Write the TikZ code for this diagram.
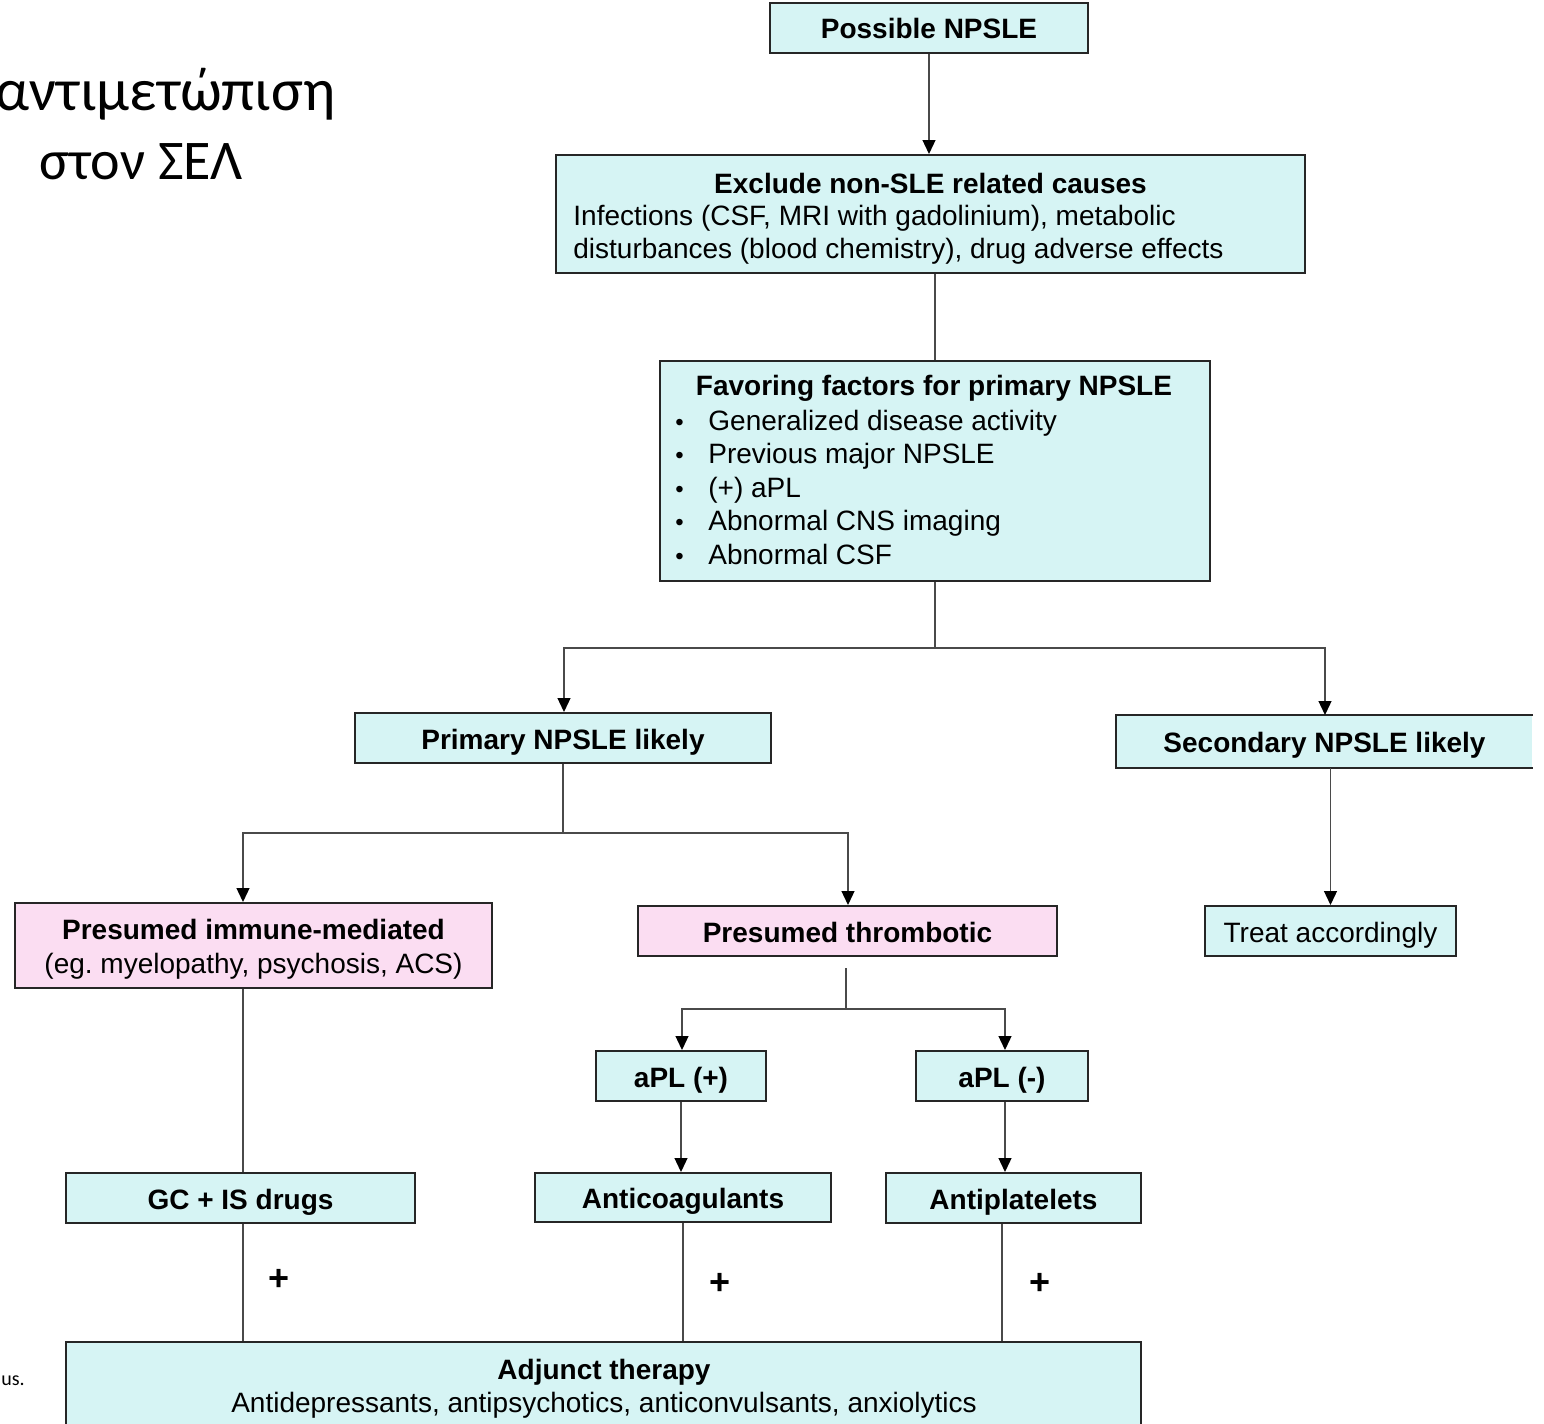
\documentclass[tikz,border=0pt]{standalone}
\usepackage{fontspec}
\setmainfont{Liberation Sans}
\newfontfamily\greekfont{Carlito}
\usetikzlibrary{arrows.meta}
\definecolor{boxcyan}{HTML}{D6F4F4}
\definecolor{boxpink}{HTML}{FBDDF2}
\definecolor{linegray}{HTML}{4A4A4A}
\newcommand\mybul{\makebox[16.5pt][l]{\fontsize{12}{12}\selectfont\textbullet}}
\frenchspacing
\begin{document}
\begin{tikzpicture}[x=0.5pt,y=-0.5pt,
  box/.style={draw=black!85, line width=1pt, fill=boxcyan, inner sep=0pt,
    font=\fontsize{14}{16.75}\selectfont, align=center, text height=12pt, text depth=1pt},
  pbox/.style={box, fill=boxpink},
  txt/.style={inner sep=0pt, font=\fontsize{14}{16.75}\selectfont},
  conn/.style={draw=linegray, line width=0.65pt},
  arr/.style={conn, -{Triangle[length=7pt,width=6.5pt,color=black]}},
  gtitle/.style={inner sep=0pt, anchor=base east, font=\greekfont\fontsize{30}{36}\selectfont},
  plus/.style={inner sep=0pt, font=\fontsize{18}{20}\selectfont\bfseries},
]
\useasboundingbox (0,0) rectangle (1544,1424);

% title
\node[gtitle] (t1) at (336,110) {αντιμετώπιση};
\node[gtitle, font=\greekfont\fontsize{28}{34}\selectfont] (t2) at (243,179) {στον ΣΕΛ};
\node[inner sep=0pt, anchor=base west, font=\greekfont\fontsize{10}{12}\selectfont] (us) at (1,1385) {us.};

% boxes
\node[box, minimum width=159pt, minimum height=25pt] (poss) at (929,28) {\textbf{Possible NPSLE}};

\node[box, minimum width=374.5pt, minimum height=59pt] (excl) at (930.5,214) {};
\node[txt] (exclt) at (930.5,183) {\textbf{Exclude non-SLE related causes}};
\node[txt, anchor=west, align=left] (exclb) at (573,235) {Infections (CSF, MRI with gadolinium), metabolic\\disturbances (blood chemistry), drug adverse effects};

\node[box, minimum width=275pt, minimum height=110pt] (fav) at (935,471) {};
\node[txt] (favt) at (934,388) {\textbf{Favoring factors for primary NPSLE}};
\node[txt, anchor=west, align=left] (favb) at (675,487) {%
\mybul Generalized disease activity\\
\mybul Previous major NPSLE\\
\mybul (+) aPL\\
\mybul Abnormal CNS imaging\\
\mybul Abnormal CSF};

\node[box, minimum width=208pt, minimum height=25pt] (prim) at (563,738) {\textbf{Primary NPSLE likely}};
\node[box, draw=none, minimum width=207.5pt, minimum height=25.5pt] (sec) at (1324.5,741.5) {\textbf{Secondary NPSLE likely}};
\draw[draw=black!85, line width=1pt] (sec.north east) -- (sec.north west) -- (sec.south west) -- (sec.south east);

\node[pbox, minimum width=238.5pt, minimum height=42.5pt] (imm) at (253.5,945.5) {};
\node[txt, align=center] (immt) at (253.5,949.5) {\textbf{Presumed immune-mediated}\\(eg. myelopathy, psychosis, ACS)};
\node[pbox, minimum width=209.5pt, minimum height=25pt] (thr) at (847.5,931) {\textbf{Presumed thrombotic}};
\node[box, minimum width=125.5pt, minimum height=25pt] (treat) at (1330.5,931) {Treat accordingly};

\node[box, minimum width=85pt, minimum height=25pt] (apos) at (681,1076) {\textbf{aPL (+)}};
\node[box, minimum width=86pt, minimum height=25pt] (aneg) at (1002,1076) {\textbf{aPL (-)}};

\node[box, minimum width=174.5pt, minimum height=25pt] (gc) at (240.5,1198) {\textbf{GC + IS drugs}};
\node[box, minimum width=148pt, minimum height=24.5pt] (antic) at (683,1197.5) {\textbf{Anticoagulants}};
\node[box, minimum width=127.5pt, minimum height=25pt] (antip) at (1013.5,1198) {\textbf{Antiplatelets}};

\node[box, minimum width=537.5pt, minimum height=49pt] (adj) at (603.5,1391) {};
\node[txt, align=center] (adjt) at (604,1389) {\textbf{Adjunct therapy}\\Antidepressants, antipsychotics, anticonvulsants, anxiolytics};

% plus signs
\node[plus] (p1) at (279,1280) {+};
\node[plus] (p2) at (720,1284) {+};
\node[plus] (p3) at (1040,1284) {+};

% junction coordinates
\coordinate (j1) at (935,648);
\coordinate (j2) at (563,833);
\coordinate (j3) at (846,1009);

% connectors
\draw[arr] (poss.south) -- (poss.south |- excl.north);
\draw[conn] (fav.north) -- (fav.north |- excl.south);
\draw[conn] (fav.south) -- (j1);
\draw[arr] (j1) -| ([xshift=0.5pt]prim.north);
\draw[arr] (j1) -| ([xshift=0.25pt]sec.north);
\draw[conn] (prim.south) -- (j2);
\draw[arr] (j2) -| ([xshift=-5.25pt]imm.north);
\draw[arr] (j2) -| ([xshift=0.25pt]thr.north);
\draw[arr] (treat.north |- sec.south) -- (treat.north);
\draw[conn] ([xshift=-0.75pt,yshift=-5.5pt]thr.south) -- (j3);
\draw[arr] (j3) -| ([xshift=0.5pt]apos.north);
\draw[arr] (j3) -| ([xshift=1.5pt]aneg.north);
\draw[arr] (apos.south) -- (apos.south |- antic.north);
\draw[arr] ([xshift=1.5pt]aneg.south) -- ([xshift=1.5pt]aneg.south |- antip.north);
\draw[conn] ([xshift=-5.25pt]imm.south) -- ([xshift=-5.25pt]imm.south |- gc.north);
\draw[conn] ([xshift=1.25pt]gc.south) -- ([xshift=1.25pt]gc.south |- adj.north);
\draw[conn] (antic.south) -- (antic.south |- adj.north);
\draw[conn] ([xshift=-5.75pt]antip.south) -- ([xshift=-5.75pt]antip.south |- adj.north);
\end{tikzpicture}
\end{document}
